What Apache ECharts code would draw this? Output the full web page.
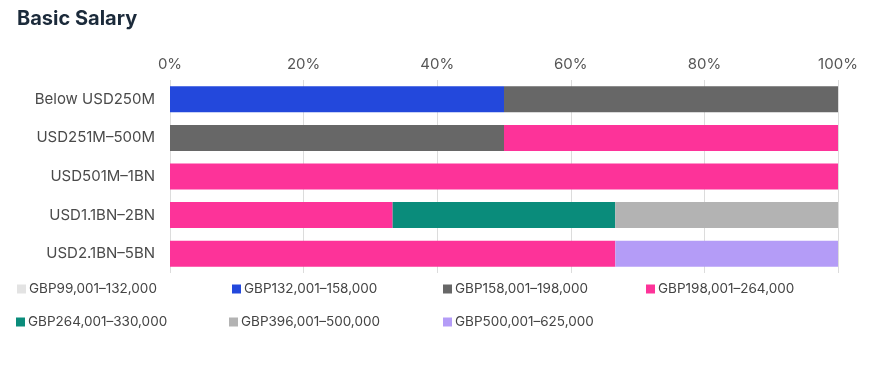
<!DOCTYPE html>
<html>
<head>
<meta charset="utf-8">
<script src="https://cdn.jsdelivr.net/npm/echarts@6/dist/echarts.min.js"></script>
<style>html,body{margin:0;padding:0;background:#fff;}#c{width:877px;height:368px;}</style>
</head>
<body>
<div id="c"></div>
<script>
const categories = ['Below USD250M', 'USD251M\u2013500M', 'USD501M\u20131BN', 'USD1.1BN\u20132BN', 'USD2.1BN\u20135BN'];
const seriesNames = ['GBP99,001\u2013132,000', 'GBP132,001\u2013158,000', 'GBP158,001\u2013198,000', 'GBP198,001\u2013264,000', 'GBP264,001\u2013330,000', 'GBP396,001\u2013500,000', 'GBP500,001\u2013625,000'];
const s99_132 = [0, 0, 0, 0, 0];
const s132_158 = [50, 0, 0, 0, 0];
const s158_198 = [50, 50, 0, 0, 0];
const s198_264 = [0, 50, 100, 33.33, 66.67];
const s264_330 = [0, 0, 0, 33.33, 0];
const s396_500 = [0, 0, 0, 33.34, 0];
const s500_625 = [0, 0, 0, 0, 33.33];
const tickLabels = ['0%', '20%', '40%', '60%', '80%', '100%'];

const seriesValues = [s99_132, s132_158, s158_198, s198_264, s264_330, s396_500, s500_625];
const colors = ['#e3e3e3', '#2348dc', '#676767', '#fd3399', '#0a8c7b', '#b3b3b3', '#b49cf7'];
const legendPos = [[12, 277], [227, 277], [438, 277], [641, 277], [11, 310], [224, 310], [438, 310]];
const FONT = 'Inter, Roboto, sans-serif';

const chart = echarts.init(document.getElementById('c'), null, {renderer: 'canvas'});
chart.setOption({
  animation: false,
  color: colors,
  title: {
    text: 'Basic Salary', left: 12, top: 4,
    textStyle: {fontFamily: FONT, fontSize: 20, fontWeight: 'bold', color: '#1b2a3a'}
  },
  legend: seriesNames.map((n, i) => ({
    data: [n], left: legendPos[i][0], top: legendPos[i][1],
    icon: 'rect', itemWidth: 9, itemHeight: 9, itemGap: 4,
    textStyle: {fontFamily: FONT, fontSize: 13.5, color: '#444', padding: [0, 0, 0, -2]},
    selectedMode: false
  })),
  grid: {left: 170, right: 39, top: 80, bottom: 95, containLabel: false},
  xAxis: {
    type: 'value', position: 'top', min: 0, max: 100, interval: 20,
    axisLine: {show: false}, axisTick: {show: false},
    axisLabel: {
      fontFamily: FONT, fontSize: 15, color: '#555', margin: 8,
      formatter: v => tickLabels[Math.round(v / 20)]
    },
    splitLine: {show: true, lineStyle: {color: '#dcdcdc', width: 1}}
  },
  yAxis: {
    type: 'category', data: categories, inverse: true,
    axisLine: {show: false}, axisTick: {show: false},
    axisLabel: {fontFamily: FONT, fontSize: 15, color: '#4a4a4a', margin: 15}
  },
  series: seriesNames.map((n, i) => ({
    name: n, type: 'bar', stack: 'total', data: seriesValues[i],
    barWidth: 26, itemStyle: {color: colors[i]}
  }))
});
</script>
</body>
</html>
